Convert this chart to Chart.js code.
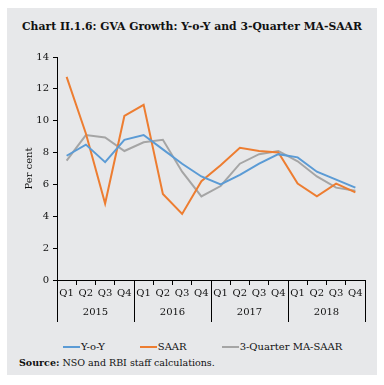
<!DOCTYPE html>
<html>
<head>
<meta charset="utf-8">
<script src="https://cdn.jsdelivr.net/npm/chart.js@4.4.0/dist/chart.umd.min.js"></script>
<style>
  body { margin: 0; background: #ffffff; }
  #panel {
    position: absolute; left: 7px; top: 8px; width: 370px; height: 367px;
    background: #e7e8ea; font-family: "DejaVu Serif", serif; color: #111;
  }
  #title {
    position: absolute; left: 0; top: 12px; width: 370px; text-align: center;
    font-weight: bold; font-size: 10.8px;
  }
  #chartBox { position: absolute; left: 0; top: 32px; width: 370px; height: 282px; }
  #legend {
    position: absolute; left: 56px; top: 333px; display: flex; gap: 35px;
    font-size: 10px; line-height: 12px;
  }
  #legend .item { display: flex; align-items: center; }
  #legend .swatch { width: 17px; height: 2px; margin-right: 1px; }
  #source { position: absolute; left: 12px; top: 349px; font-size: 9.5px; }
</style>
</head>
<body>
<div id="panel">
  <div id="title">Chart II.1.6: GVA Growth: Y-o-Y and 3-Quarter MA-SAAR</div>
  <div id="chartBox"><canvas id="gvaChart"></canvas></div>
  <div id="legend"></div>
  <div id="source"><b>Source:</b> NSO and RBI staff calculations.</div>
</div>
<script>
// ===========================
// Data
// ===========================
const quarters = ['Q1', 'Q2', 'Q3', 'Q4', 'Q1', 'Q2', 'Q3', 'Q4',
                  'Q1', 'Q2', 'Q3', 'Q4', 'Q1', 'Q2', 'Q3', 'Q4'];
const years = ['2015', '2016', '2017', '2018'];
const yoy = [7.8, 8.5, 7.4, 8.8, 9.1, 8.2, 7.3, 6.5, 6.0, 6.6, 7.3, 7.9, 7.7, 6.8, 6.3, 5.8];
const saar = [12.75, 9.2, 4.8, 10.3, 11.0, 5.4, 4.15, 6.2, 7.2, 8.3, 8.1, 8.0, 6.05, 5.25, 6.05, 5.5];
const maSaar = [7.5, 9.1, 8.95, 8.1, 8.65, 8.8, 6.8, 5.25, 5.9, 7.3, 7.9, 8.1, 7.45, 6.5, 5.8, 5.6];
const yTicks = [0, 2, 4, 6, 8, 10, 12, 14];

const FONT = 'DejaVu Serif';

// Year row under the quarter labels
const yearRow = {
    id: 'yearRow',
    afterDraw(chart) {
        const xs = chart.scales.x;
        const ctx = chart.ctx;
        const area = chart.chartArea;
        const step = xs.getPixelForValue(1) - xs.getPixelForValue(0);
        ctx.save();
        ctx.strokeStyle = '#000';
        ctx.lineWidth = 1;
        ctx.fillStyle = '#111';
        ctx.font = '10px "' + FONT + '"';
        ctx.textAlign = 'center';
        ctx.textBaseline = 'middle';
        for (let i = 0; i <= years.length; i++) {
            const px = Math.round(xs.getPixelForValue(i * 4) - step / 2) + 0.5;
            ctx.beginPath();
            ctx.moveTo(px, area.bottom);
            ctx.lineTo(px, area.bottom + 42);
            ctx.stroke();
        }
        years.forEach((y, i) => {
            const cx = xs.getPixelForValue(i * 4 + 1.5);
            ctx.fillText(y, cx, area.bottom + 32);
        });
        ctx.restore();
    }
};

const gvaChart = new Chart(document.getElementById('gvaChart'), {
    type: 'line',
    data: {
        labels: quarters,
        datasets: [
            { label: 'Y-o-Y', data: yoy, borderColor: '#5b9bd5', backgroundColor: '#5b9bd5' },
            { label: 'SAAR', data: saar, borderColor: '#ed7d31', backgroundColor: '#ed7d31' },
            { label: '3-Quarter MA-SAAR', data: maSaar, borderColor: '#a5a5a5', backgroundColor: '#a5a5a5' }
        ]
    },
    options: {
        responsive: true,
        maintainAspectRatio: false,
        animation: false,
        layout: { padding: { left: 16, right: 12, top: 17, bottom: 0 } },
        elements: {
            line: { borderWidth: 2, tension: 0 },
            point: { radius: 0 }
        },
        plugins: {
            legend: { display: false },
            tooltip: { enabled: false }
        },
        scales: {
            x: {
                offset: true,
                grid: {
                    offset: true,
                    drawOnChartArea: false,
                    color: '#000',
                    tickLength: 5
                },
                border: { color: '#000' },
                ticks: {
                    font: { family: FONT, size: 10 },
                    color: '#111',
                    maxRotation: 0,
                    autoSkip: false,
                    padding: 2
                },
                afterFit(scale) { scale.height = 42; }
            },
            y: {
                min: 0,
                max: 14,
                afterBuildTicks(scale) { scale.ticks = yTicks.map(v => ({ value: v })); },
                grid: { drawOnChartArea: false, color: '#000', tickLength: 4 },
                border: { color: '#000' },
                ticks: {
                    font: { family: FONT, size: 10 },
                    color: '#111',
                    padding: 4
                },
                title: {
                    display: true,
                    text: 'Per cent',
                    font: { family: FONT, size: 10 },
                    color: '#111',
                    padding: { top: 0, bottom: 3 }
                },
                afterFit(scale) { scale.width = 34; }
            }
        }
    },
    plugins: [yearRow]
});

// ===========================
// HTML legend (line swatch right next to text)
// ===========================
const legendBox = document.getElementById('legend');
gvaChart.data.datasets.forEach(ds => {
    const item = document.createElement('div');
    item.className = 'item';
    const sw = document.createElement('span');
    sw.className = 'swatch';
    sw.style.background = ds.borderColor;
    const txt = document.createElement('span');
    txt.textContent = ds.label;
    item.appendChild(sw);
    item.appendChild(txt);
    legendBox.appendChild(item);
});
</script>
</body>
</html>
